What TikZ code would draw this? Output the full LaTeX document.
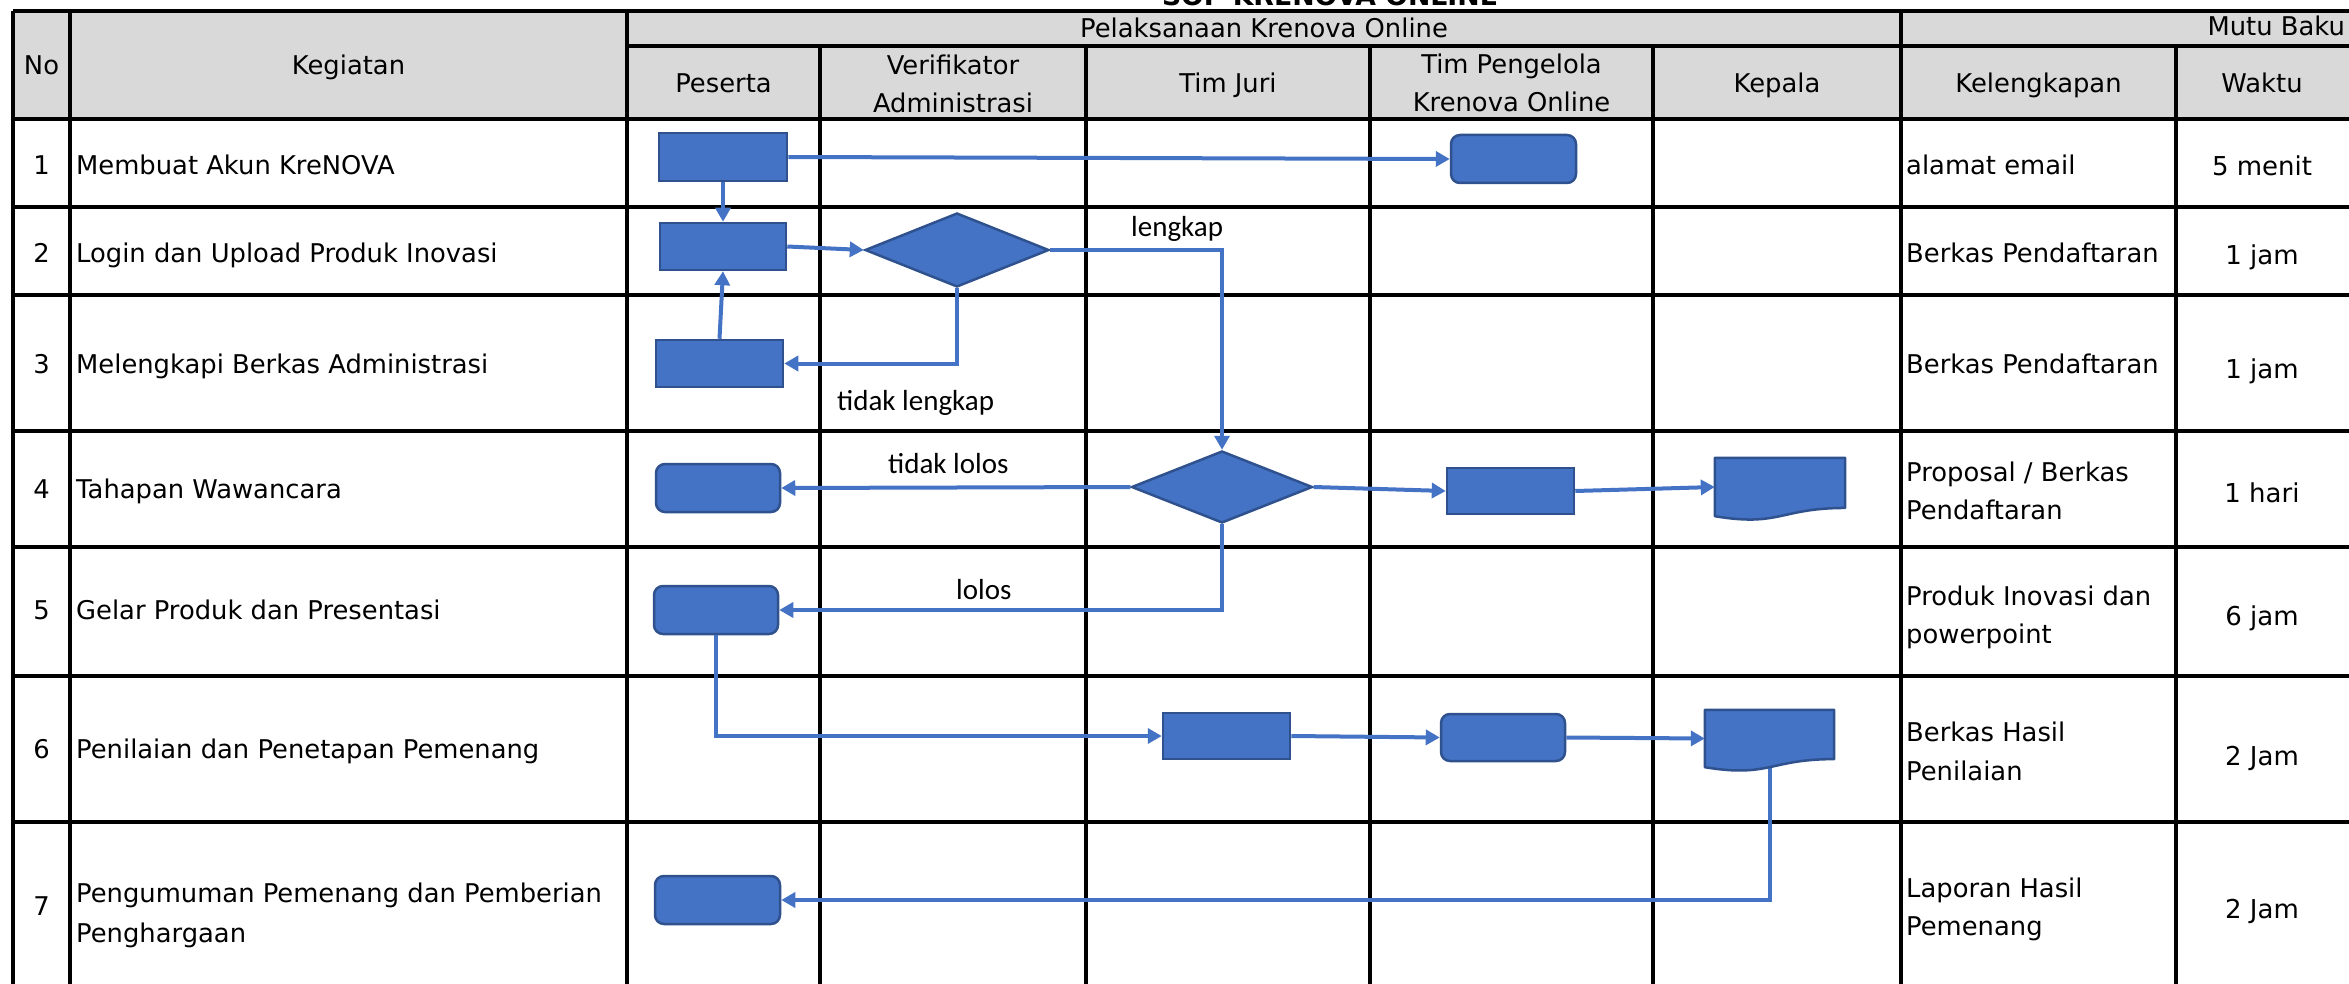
\documentclass[tikz,border=0pt]{standalone}
\usepackage{fontspec}
\setmainfont{DejaVu Sans}
\newfontfamily\labfont{Carlito}
\usetikzlibrary{shapes.geometric,arrows.meta,calc}
\definecolor{hdrgray}{HTML}{D9D9D9}
\definecolor{shapeblue}{HTML}{4472C4}
\definecolor{shapeedge}{HTML}{2F528F}
\newcommand{\docpath}[1]{%
  \filldraw[fill=shapeblue, draw=shapeedge, line width=2.5pt, line join=round]
    (#1.north west) -- (#1.north east) -- ($(#1.north east)!0.859!(#1.south east)$)
    .. controls ($(#1.north)!0.859!(#1.south)$) and ($(#1.north)!1.186!(#1.south)$) .. (#1.south west) -- cycle;}
\begin{document}
\begin{tikzpicture}[x=1pt,y=-1pt,
  gridline/.style={line width=3.5pt, black},
  proc/.style={rectangle, fill=shapeblue, draw=shapeedge, line width=2.5pt, inner sep=0pt},
  rproc/.style={proc, rounded corners=9pt},
  decis/.style={diamond, fill=shapeblue, draw=shapeedge, line width=2.5pt, inner sep=0pt},
  docbox/.style={rectangle, inner sep=0pt, draw=none},
  flow/.style={draw=shapeblue, line width=4pt, -{Triangle[length=14pt,width=15pt]}},
  cell/.style={font=\fontsize{25.8}{30}\selectfont, inner sep=0pt},
  wcell/.style={font=\fontsize{26}{30}\selectfont, inner sep=0pt, anchor=base},
  lab/.style={font=\labfont\fontsize{29}{34}\selectfont, inner sep=0pt, anchor=base west},
]
\useasboundingbox (0,0) rectangle (2349,984);
\fill[white] (0,0) rectangle (2349,984);
% title (cut off at top)
\node[anchor=base, inner sep=0pt, font=\bfseries\fontsize{26.7}{30}\selectfont] (title) at (1330,6) {SOP KRENOVA ONLINE};
% header fill
\fill[hdrgray] (13,11) rectangle (2349,119);
% horizontal grid lines
\foreach \yy in {11,119,207,295,431,547,676,822} \draw[gridline] (13,\yy) -- (2349,\yy);
\draw[gridline] (627,46) -- (2349,46);
% vertical grid lines
\foreach \xx in {13,70,627,1901} \draw[gridline] (\xx,11) -- (\xx,984);
\foreach \xx in {820,1086,1370,1653,2176} \draw[gridline] (\xx,46) -- (\xx,984);
% header texts
\node[cell, anchor=base] (hno) at (41.5,75) {No};
\node[cell, anchor=base] (hkeg) at (348.5,75) {Kegiatan};
\node[cell, anchor=base] (hpel) at (1264,38) {Pelaksanaan Krenova Online};
\node[cell, anchor=base east] (hmutu) at (2345,36) {Mutu Baku};
\node[cell, anchor=base] (hpes) at (723.5,93) {Peserta};
\node[cell, anchor=base] (hver1) at (953,75) {Verifikator};
\node[cell, anchor=base] (hver2) at (953,113) {Administrasi};
\node[cell, anchor=base] (hjuri) at (1228,93) {Tim Juri};
\node[cell, anchor=base] (htp1) at (1511.5,74) {Tim Pengelola};
\node[cell, anchor=base] (htp2) at (1511.5,112) {Krenova Online};
\node[cell, anchor=base] (hkep) at (1777,93) {Kepala};
\node[cell, anchor=base] (hkel) at (2038.5,93) {Kelengkapan};
\node[cell, anchor=base] (hwak) at (2262,93) {Waktu};
% row numbers
\node[cell, anchor=base] (n1) at (41.5,175) {1};
\node[cell, anchor=base] (n2) at (41.5,262) {2};
\node[cell, anchor=base] (n3) at (41.5,373) {3};
\node[cell, anchor=base] (n4) at (41.5,498) {4};
\node[cell, anchor=base] (n5) at (41.5,619) {5};
\node[cell, anchor=base] (n6) at (41.5,758) {6};
\node[cell, anchor=base] (n7) at (41.5,915) {7};
% kegiatan
\node[cell, anchor=base west] (k1) at (76,175) {Membuat Akun KreNOVA};
\node[cell, anchor=base west] (k2) at (76,262) {Login dan Upload Produk Inovasi};
\node[cell, anchor=base west] (k3) at (76,373) {Melengkapi Berkas Administrasi};
\node[cell, anchor=base west] (k4) at (76,498) {Tahapan Wawancara};
\node[cell, anchor=base west] (k5) at (76,619) {Gelar Produk dan Presentasi};
\node[cell, anchor=base west] (k6) at (76,758) {Penilaian dan Penetapan Pemenang};
\node[cell, anchor=base west] (k7a) at (76,902) {Pengumuman Pemenang dan Pemberian};
\node[cell, anchor=base west] (k7b) at (76,942) {Penghargaan};
% kelengkapan
\node[cell, anchor=base west] (c1) at (1906,175) {alamat email};
\node[cell, anchor=base west] (c2) at (1906,262) {Berkas Pendaftaran};
\node[cell, anchor=base west] (c3) at (1906,373) {Berkas Pendaftaran};
\node[cell, anchor=base west] (c4a) at (1906,481) {Proposal / Berkas};
\node[cell, anchor=base west] (c4b) at (1906,519) {Pendaftaran};
\node[cell, anchor=base west] (c5a) at (1906,605) {Produk Inovasi dan};
\node[cell, anchor=base west] (c5b) at (1906,643) {powerpoint};
\node[cell, anchor=base west] (c6a) at (1906,741) {Berkas Hasil};
\node[cell, anchor=base west] (c6b) at (1906,780) {Penilaian};
\node[cell, anchor=base west] (c7a) at (1906,897) {Laporan Hasil};
\node[cell, anchor=base west] (c7b) at (1906,935) {Pemenang};
% waktu
\node[wcell] (w1) at (2262,176) {5 menit};
\node[wcell] (w2) at (2262,265) {1 jam};
\node[wcell] (w3) at (2262,378) {1 jam};
\node[wcell] (w4) at (2262,502) {1 hari};
\node[wcell] (w5) at (2262,625) {6 jam};
\node[wcell] (w6) at (2262,765) {2 Jam};
\node[wcell] (w7) at (2262,918) {2 Jam};
% flow shapes
\node[proc, minimum width=128pt, minimum height=48pt] (P1) at (723,157) {};
\node[rproc, minimum width=125pt, minimum height=48pt] (TP1) at (1513.5,159) {};
\node[proc, minimum width=126pt, minimum height=47pt] (P2) at (723,246.5) {};
\node[decis, minimum width=184pt, minimum height=74pt] (D1) at (957,250) {};
\node[proc, minimum width=127pt, minimum height=47pt] (P3) at (719.5,363.5) {};
\node[rproc, minimum width=124pt, minimum height=48pt] (P4) at (718,488) {};
\node[decis, minimum width=181pt, minimum height=72pt] (D2) at (1222,487) {};
\node[proc, minimum width=127pt, minimum height=46pt] (TP4) at (1510.5,491) {};
\node[docbox, minimum width=130pt, minimum height=58pt] (K4) at (1780,487) {};
\node[rproc, minimum width=124pt, minimum height=48pt] (P5) at (716,610) {};
\node[proc, minimum width=127pt, minimum height=46pt] (TJ6) at (1226.5,736) {};
\node[rproc, minimum width=124pt, minimum height=47pt] (TP6) at (1503,737.5) {};
\node[docbox, minimum width=129pt, minimum height=57pt] (K6) at (1769.5,738.5) {};
\node[rproc, minimum width=125pt, minimum height=48pt] (P7) at (717.5,900) {};
% connectors
\draw[flow] (K6.south) |- (P7.east);
\docpath{K4}
\docpath{K6}
\draw[flow] (P1.east) -- (TP1.west);
\draw[flow] (P1.south) -- (P2.north);
\draw[flow] (P2.east) -- (D1.west);
\draw[flow] (D1.east) -| (D2.north);
\draw[flow] (D1.south) |- (P3.east);
\draw[flow] (P3.north) -- (P2.south);
\draw[flow] (D2.west) -- (P4.east);
\draw[flow] (D2.east) -- (TP4.west);
\draw[flow] (TP4.east) -- (K4.west);
\draw[flow] (D2.south) |- (P5.east);
\draw[flow] (P5.south) |- (TJ6.west);
\draw[flow] (TJ6.east) -- (TP6.west);
\draw[flow] (TP6.east) -- (K6.west);
% labels
\node[lab] (lbl1) at (1131,237) {lengkap};
\node[lab] (lbl2) at (837,410) {tidak lengkap};
\node[lab] (lbl3) at (888,473) {tidak lolos};
\node[lab] (lbl4) at (956,599) {lolos};
\end{tikzpicture}
\end{document}
